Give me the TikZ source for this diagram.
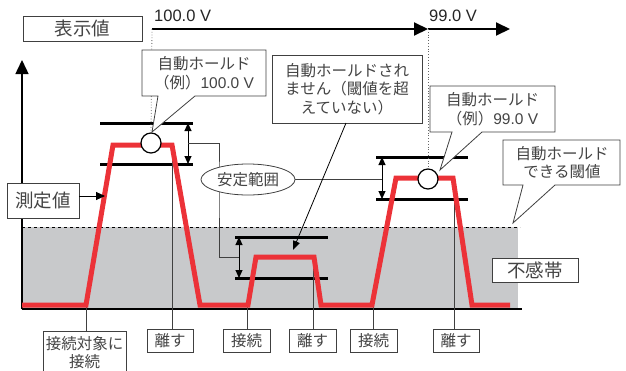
\documentclass[tikz,border=0pt]{standalone}
\usepackage{fontspec}
\setmainfont{Noto Sans CJK JP}
\newfontfamily\lat{Liberation Sans}
\usetikzlibrary{arrows.meta,shapes.geometric,calc}
\definecolor{redline}{RGB}{236,50,56}
\definecolor{bandgray}{RGB}{200,201,203}
\definecolor{txt}{RGB}{68,68,68}
\begin{document}
\begin{tikzpicture}[x=1pt,y=-1pt,
  box/.style={draw=black!75, line width=0.8pt, fill=white, text=txt, inner sep=0pt, align=center},
  bigf/.style={font=\fontsize{18.5}{21}\selectfont},
  smallf/.style={font=\fontsize{15.5}{18.5}\selectfont},
  txtnode/.style={text=txt, inner sep=0pt, align=center, font=\fontsize{15.5}{18.5}\selectfont},
  bar/.style={line width=3pt},
  dbl/.style={line width=1pt, {Triangle[length=8pt,width=7pt]}-{Triangle[length=8pt,width=7pt]}},
  thinl/.style={line width=0.8pt, draw=black!75},
  callout/.style={draw=black!75, line width=0.8pt, fill=white},
  bigarrow/.style={line width=2pt, -{Triangle[length=14pt,width=13pt]}},
  holdcirc/.style={circle, draw=black, fill=white, line width=1.2pt, minimum size=20pt, inner sep=0pt},
  dotl/.style={dotted, line width=0.8pt, black!60}
]
\useasboundingbox (0,0) rectangle (626,370);

% dead band
\fill[bandgray] (22,227) rectangle (518,309);
\draw[dashed, line width=0.7pt] (22,227) -- (520,227);

% axes
\coordinate (o) at (22,309);
\coordinate (ytop) at (22,60);
\coordinate (xend) at (522,309);
\draw[line width=2pt] (o) -- (xend);
\draw[line width=1.5pt, -{Triangle[length=14pt,width=13pt]}] (o) -- (ytop);

% stability bands
\draw[bar] (100,123) -- (193,123);
\draw[bar] (100,164) -- (193,164);
\draw[bar] (235,237) -- (328,237);
\draw[bar] (235,278) -- (328,278);
\draw[bar] (376,157) -- (468,157);
\draw[bar] (376,199) -- (468,199);
\coordinate (b1t) at (188,123); \coordinate (b1b) at (188,164);
\coordinate (b2t) at (239,237); \coordinate (b2b) at (239,278);
\coordinate (b3t) at (382,157); \coordinate (b3b) at (382,199);
\draw[dbl] (b1t) -- (b1b);
\draw[dbl] (b2t) -- (b2b);
\draw[dbl] (b3t) -- (b3b);
\coordinate (a1) at (188,143.5);
\coordinate (a2) at (239,257.5);
\coordinate (a3) at (382,179);

% connector points on the measured curve
\coordinate (p1) at (86,305);
\coordinate (p2) at (172,145);
\coordinate (p3) at (247,305);
\coordinate (p4) at (313,257);
\coordinate (p5) at (373,305);
\coordinate (p6) at (454,178);

% bottom labels
\node[txtnode] (l1) at (84.5,352.5) {接続対象に\\接続};
\draw[draw=black!75, line width=0.8pt] (43,372) -- (43,331) coordinate (l1a) -- (126,331) -- (126,372);
\node[box,smallf,minimum width=46pt,minimum height=23pt] (r1) at (170,340.5) {離す};
\node[box,smallf,minimum width=47pt,minimum height=23pt] (c2) at (246.5,340.5) {接続};
\node[box,smallf,minimum width=47pt,minimum height=23pt] (r2) at (312.5,340.5) {離す};
\node[box,smallf,minimum width=47pt,minimum height=23pt] (c3) at (373.5,340.5) {接続};
\node[box,smallf,minimum width=46pt,minimum height=23pt] (r3) at (456,340.5) {離す};
\draw[thinl] (p1 |- l1a) -- (p1);
\draw[thinl] (r1.north -| p2) -- (p2);
\draw[thinl] (c2.north -| p3) -- (p3);
\draw[thinl] (r2.north -| p4) -- (p4);
\draw[thinl] (c3.north -| p5) -- (p5);
\draw[thinl] (r3.north -| p6) -- (p6);

% measured curve
\draw[redline, line width=5pt, line join=miter]
  (22,305) -- (86,305) -- (113,145) -- (172,145) -- (200,305) -- (248,305)
  -- (256,257) -- (314,257) -- (321,305) -- (372,305) -- (396,178) -- (453,178)
  -- (472,305) -- (510,305);

% stability range ellipse and its leaders
\coordinate (sL) at (219,179.5);
\coordinate (sC) at (248,179.5);
\draw[thinl] (a1) -| (sL) |- (a2);
\draw[thinl] (sC) -- (sC -| a3);
\node[ellipse, draw=black!75, line width=0.8pt, fill=white, minimum width=94pt, minimum height=31pt, inner sep=0pt, text=txt, smallf] (stab) at (sC) {安定範囲};

% display value
\node[box,bigf,minimum width=119pt,minimum height=25pt] (disp) at (82.5,28.5) {表示値};
\coordinate (d0) at (152,29);
\coordinate (d1) at (428,29);
\coordinate (d2) at (510,29);
\draw[bigarrow] (d0) -- (d1);
\draw[bigarrow] (d1) -- (d2);
\node[anchor=west, inner sep=0pt, text=black!85, font=\lat\fontsize{16.5}{18}\selectfont] (v1) at (154,16) {100.0 V};
\node[anchor=west, inner sep=0pt, text=black!85, font=\lat\fontsize{16.5}{18}\selectfont] (v2) at (429,16) {99.0 V};

% hold circles
\node[holdcirc] (h1) at (151,143) {};
\node[holdcirc] (h2) at (428,179) {};
\draw[dotl] (d0) -- (h1.north);
\draw[dotl] (d1) -- (h2.north);

% measured value label
\node[box,bigf,minimum width=72pt,minimum height=35pt] (mv) at (43,200.5) {測定値};
\coordinate (mvt) at (105,196);
\draw[line width=0.9pt, -{Triangle[length=9pt,width=8pt]}] (mv.east |- mvt) -- (mvt);

% dead band label
\node[box,bigf,minimum width=86pt,minimum height=24pt] (db) at (535,270) {不感帯};

% callout 1
\draw[callout] (142,50) -- (266,50) -- (266,96) -- (195,96) -- (152,132) -- (158,96) -- (142,96) -- cycle;
\node[txtnode] (t1) at (204,73) {自動ホールド\\（例）{\lat 100.0 V}};

% callout 2 (not held)
\node[box,smallf,minimum width=150pt,minimum height=68pt] (nh) at (347,89) {自動ホールドされ\\ません（閾値を超\\えていない）};
\coordinate (nhb) at (346,123);
\coordinate (nht) at (293,250);
\draw[line width=0.8pt, -{Triangle[length=9pt,width=7pt]}] (nhb) -- (nht);

% callout 3
\draw[callout] (430,86) -- (555,86) -- (555,132) -- (482,132) -- (440,170) -- (452,132) -- (430,132) -- cycle;
\node[txtnode] (t3) at (492.5,109) {自動ホールド\\（例）{\lat 99.0 V}};

% callout 4
\draw[callout] (503,140) -- (620,140) -- (620,185) -- (555,185) -- (513,223) -- (523,185) -- (503,185) -- cycle;
\node[txtnode] (t4) at (562,162.5) {自動ホールド\\できる閾値};
\end{tikzpicture}
\end{document}
